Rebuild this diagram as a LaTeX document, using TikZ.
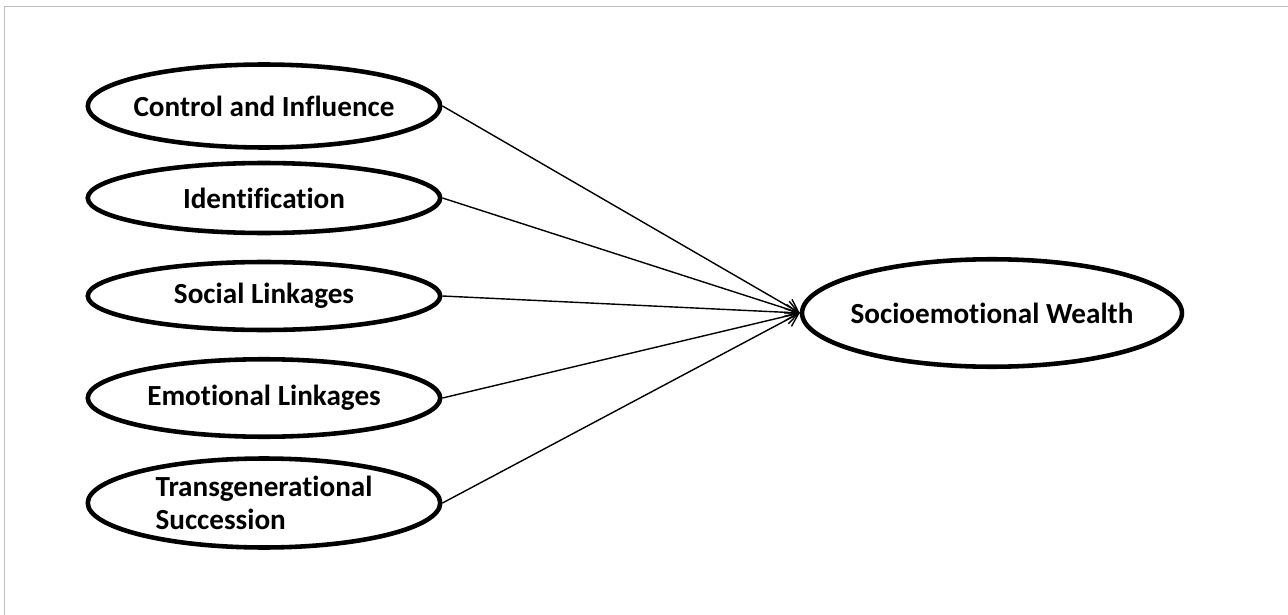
\documentclass[tikz,border=0pt]{standalone}
\usepackage{fontspec}
\setmainfont{Carlito}[Ligatures=NoCommon]
\usetikzlibrary{shapes.geometric,arrows.meta}

\begin{document}
\begin{tikzpicture}[x=0.02cm,y=-0.02cm,
	factor/.style={draw,ellipse,line width=2.6pt,minimum width=7.05cm,inner ysep=0pt,inner xsep=-0.8cm,font=\fontsize{16.6}{19}\selectfont\bfseries},
	link/.style={->,line width=0.8pt,>={Straight Barb[length=7pt,width=9pt]}}]
	\useasboundingbox (0,0) rectangle (1288,615);
	\draw [line width=1.1pt,color=black!25] (4.5,615) -- (4.5,6.5) -- (1288,6.5);
	
	\node [factor,minimum height=1.66cm](CI) at (264,106) {Control and Influence};
	\node [factor,minimum height=1.4cm](ID) at (264,198) {Identification};
	\node [factor,minimum height=1.36cm](SL) at (264,296) {Social Linkages};
	\node [factor,minimum height=1.55cm](EL) at (264,398) {Emotional Linkages};
	\node [factor,minimum height=1.78cm,align=left](TS) at (264,503) {Transgenerational\\Succession};
	
	\node [factor,minimum width=7.6cm,minimum height=2.15cm](SEW) at (992,313) {Socioemotional Wealth};
	
	\draw [link] (CI.east) -- (SEW.west);
	\draw [link] (ID.east) -- (SEW.west);
	\draw [link] (SL.east) -- (SEW.west);
	\draw [link] (EL.east) -- (SEW.west);
	\draw [link] (TS.east) -- (SEW.west);
	
\end{tikzpicture}
\end{document}
